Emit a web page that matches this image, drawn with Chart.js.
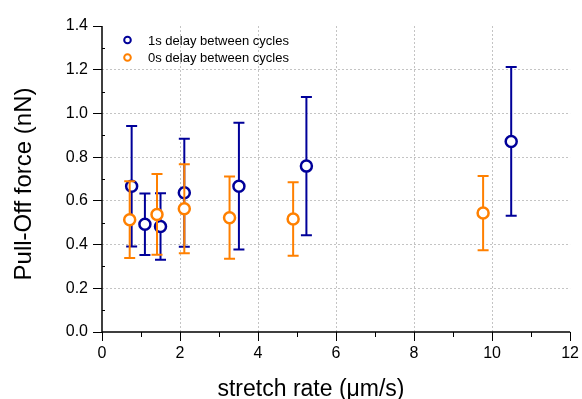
<!DOCTYPE html>
<html>
<head>
<meta charset="utf-8">
<script src="https://cdn.jsdelivr.net/npm/chart.js@4"></script>
<style>
  html, body { margin: 0; padding: 0; background: #fff; }
  #wrap { width: 582px; height: 399px; position: relative; }
</style>
</head>
<body>
<div id="wrap"><canvas id="pullOff"></canvas></div>
<script>
// datos
const rate1s = [0.76, 1.10, 1.50, 2.11, 3.51, 5.24, 10.49];
const force1s = [0.667, 0.493, 0.483, 0.637, 0.667, 0.759, 0.872];
const err1s = [0.276, 0.141, 0.152, 0.247, 0.290, 0.316, 0.340];

const rate0s = [0.71, 1.41, 2.11, 3.27, 4.90, 9.77];
const force0s = [0.514, 0.538, 0.564, 0.523, 0.517, 0.544];
const err0s = [0.176, 0.185, 0.204, 0.188, 0.168, 0.170];

const seriesLabels = ['1s delay between cycles', '0s delay between cycles'];
const xTitle = 'stretch rate (\u03BCm/s)';
const yTitle = 'Pull-Off force (nN)';

const BLUE = '#000099';
const ORANGE = '#ff8000';
const FONT = 'Arial, "Liberation Sans", sans-serif';

function toPoints(xs, ys, es) {
    return xs.map((x, i) => ({ x: x, y: ys[i], err: es[i] }));
}

// barras de error, dibujadas antes de cada serie
const errorBars = {
    id: 'errorBars',
    beforeDatasetDraw(chart, args) {
        const ds = chart.data.datasets[args.index];
        const { ctx, scales: { x, y } } = chart;
        ctx.save();
        ctx.strokeStyle = ds.borderColor;
        ctx.lineWidth = 2;
        ds.data.forEach(p => {
            const px = x.getPixelForValue(p.x);
            const top = y.getPixelForValue(p.y + p.err);
            const bot = y.getPixelForValue(p.y - p.err);
            ctx.beginPath();
            ctx.moveTo(px, top); ctx.lineTo(px, bot);
            ctx.moveTo(px - 5.5, top); ctx.lineTo(px + 5.5, top);
            ctx.moveTo(px - 5.5, bot); ctx.lineTo(px + 5.5, bot);
            ctx.stroke();
        });
        ctx.restore();
    }
};

// ejes, ticks menores, leyenda y titulos
const extras = {
    id: 'extras',
    afterDraw(chart) {
        const { ctx, chartArea: a, scales: { x, y } } = chart;
        ctx.save();
        ctx.strokeStyle = '#000';
        ctx.lineWidth = 1.5;
        ctx.beginPath();
        ctx.moveTo(a.left, a.top); ctx.lineTo(a.left, a.bottom); ctx.lineTo(a.right, a.bottom);
        ctx.stroke();

        ctx.lineWidth = 1;
        ctx.beginPath();
        for (let v = 1; v < 12; v += 2) {
            const px = Math.round(x.getPixelForValue(v)) + 0.5;
            ctx.moveTo(px, a.bottom); ctx.lineTo(px, a.bottom + 5);
        }
        for (let v = 0.1; v < 1.4; v += 0.2) {
            const py = Math.round(y.getPixelForValue(v)) + 0.5;
            ctx.moveTo(a.left, py); ctx.lineTo(a.left + 3, py);
        }
        ctx.stroke();

        // leyenda
        const colors = [BLUE, ORANGE];
        ctx.font = '13px ' + FONT;
        ctx.textBaseline = 'middle';
        ctx.textAlign = 'left';
        seriesLabels.forEach((lbl, i) => {
            const cy = 40 + i * 17.5;
            ctx.beginPath();
            ctx.arc(127.5, cy, 3.3, 0, Math.PI * 2);
            ctx.strokeStyle = colors[i];
            ctx.lineWidth = 2;
            ctx.stroke();
            ctx.fillStyle = '#000';
            ctx.fillText(lbl, 148, cy + 1);
        });

        // titulos
        ctx.fillStyle = '#000';
        ctx.font = '23px ' + FONT;
        ctx.textAlign = 'center';
        ctx.textBaseline = 'alphabetic';
        ctx.fillText(xTitle, 311, 396);
        ctx.save();
        ctx.translate(31, 184);
        ctx.rotate(-Math.PI / 2);
        ctx.font = '24px ' + FONT;
        ctx.fillText(yTitle, 0, 0);
        ctx.restore();
        ctx.restore();
    }
};

const gridColor = (max) => (c) => (c.tick && (c.tick.value === max || c.tick.value === 0)) ? 'rgba(0,0,0,0)' : '#c4c4c4';

new Chart(document.getElementById('pullOff'), {
    type: 'scatter',
    data: {
        datasets: [
            {
                label: seriesLabels[0],
                data: toPoints(rate1s, force1s, err1s),
                borderColor: BLUE,
                backgroundColor: '#fff',
                pointRadius: 5.5,
                pointBorderWidth: 2.5,
                order: 1
            },
            {
                label: seriesLabels[1],
                data: toPoints(rate0s, force0s, err0s),
                borderColor: ORANGE,
                backgroundColor: '#fff',
                pointRadius: 5.5,
                pointBorderWidth: 2.5,
                order: 0
            }
        ]
    },
    options: {
        responsive: true,
        maintainAspectRatio: false,
        animation: false,
        layout: { padding: { left: 0, right: 6, top: 26, bottom: 0 } },
        plugins: { legend: { display: false }, tooltip: { enabled: false } },
        scales: {
            x: {
                type: 'linear',
                min: 0, max: 12,
                afterFit: (s) => { s.height = 67; },
                ticks: { stepSize: 2, font: { size: 16, family: FONT }, color: '#000', padding: 3, maxRotation: 0 },
                grid: { color: gridColor(12), tickColor: '#000', tickLength: 9, lineWidth: 1 },
                border: { display: false, dash: [2, 2] }
            },
            y: {
                min: 0, max: 1.4,
                afterFit: (s) => { s.width = 102; },
                ticks: {
                    stepSize: 0.2,
                    font: { size: 16, family: FONT },
                    color: '#000',
                    padding: 5,
                    callback: (v) => v.toFixed(1)
                },
                grid: { color: gridColor(1.4), tickColor: '#000', tickLength: 9, lineWidth: 1 },
                border: { display: false, dash: [2, 2] }
            }
        }
    },
    plugins: [errorBars, extras]
});
</script>
</body>
</html>
